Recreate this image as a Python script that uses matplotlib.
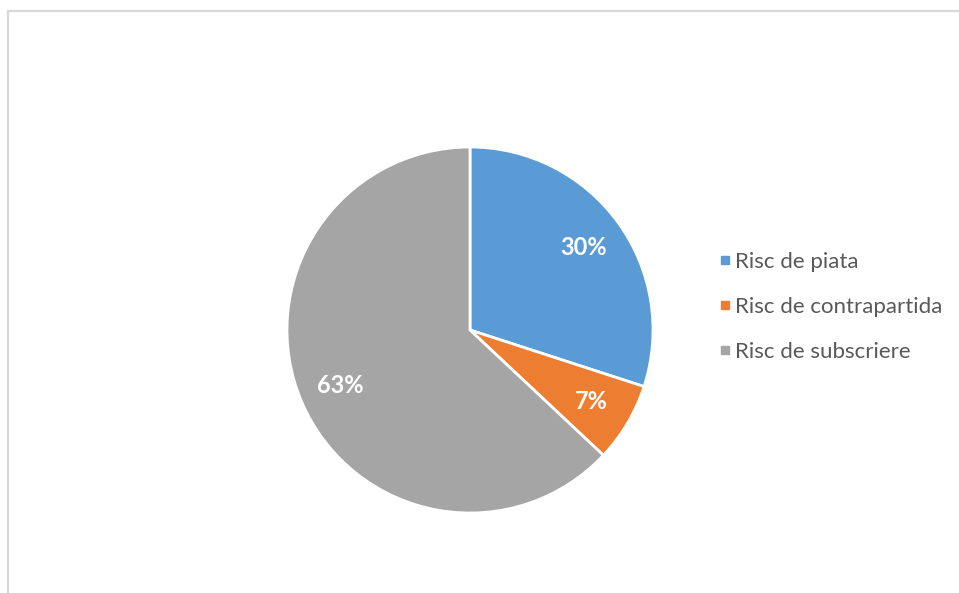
import matplotlib.pyplot as plt
from matplotlib.lines import Line2D

# risk shares (%)
labels = ['Risc de piata', 'Risc de contrapartida', 'Risc de subscriere']
values = [30, 7, 63]
colors = ['#5B9BD5', '#ED7D31', '#A5A5A5']

plt.rcParams['font.family'] = ['Lato', 'DejaVu Sans']

W, H = 959, 593
fig = plt.figure(figsize=(W / 100, H / 100), dpi=100)

# light frame around the chart area (top and left are visible)
fig.add_artist(Line2D([8 / W, 1.0], [1 - 11 / H, 1 - 11 / H], color='#d9d9d9', lw=1.6))
fig.add_artist(Line2D([8 / W, 8 / W], [0, 1 - 11 / H], color='#d9d9d9', lw=1.6))

# pie axes: center (470, 330), radius 183 px
r = 183
ax = fig.add_axes([(470 - r) / W, (H - 330 - r) / H, 2 * r / W, 2 * r / H])
wedges, texts, autotexts = ax.pie(
    values, colors=colors, startangle=90, counterclock=False,
    autopct='%1.0f%%', pctdistance=0.77, radius=1,
    wedgeprops=dict(edgecolor='white', linewidth=2),
    textprops=dict(color='white', fontsize=17, fontweight='bold'))
ax.set_xlim(-1, 1)
ax.set_ylim(-1, 1)
ax.set_aspect('equal')

# square markers for the legend
handles = [Line2D([], [], marker='s', ls='', color=c, markersize=5.2) for c in colors]
fig.legend(handles, labels, loc='center left', bbox_to_anchor=(711 / W, 1 - 307 / H),
           frameon=False, fontsize=16, labelcolor='#595959', handlelength=0.5,
           handletextpad=0.18, labelspacing=1.12, borderaxespad=0)

fig.savefig('out.png', dpi=100)
